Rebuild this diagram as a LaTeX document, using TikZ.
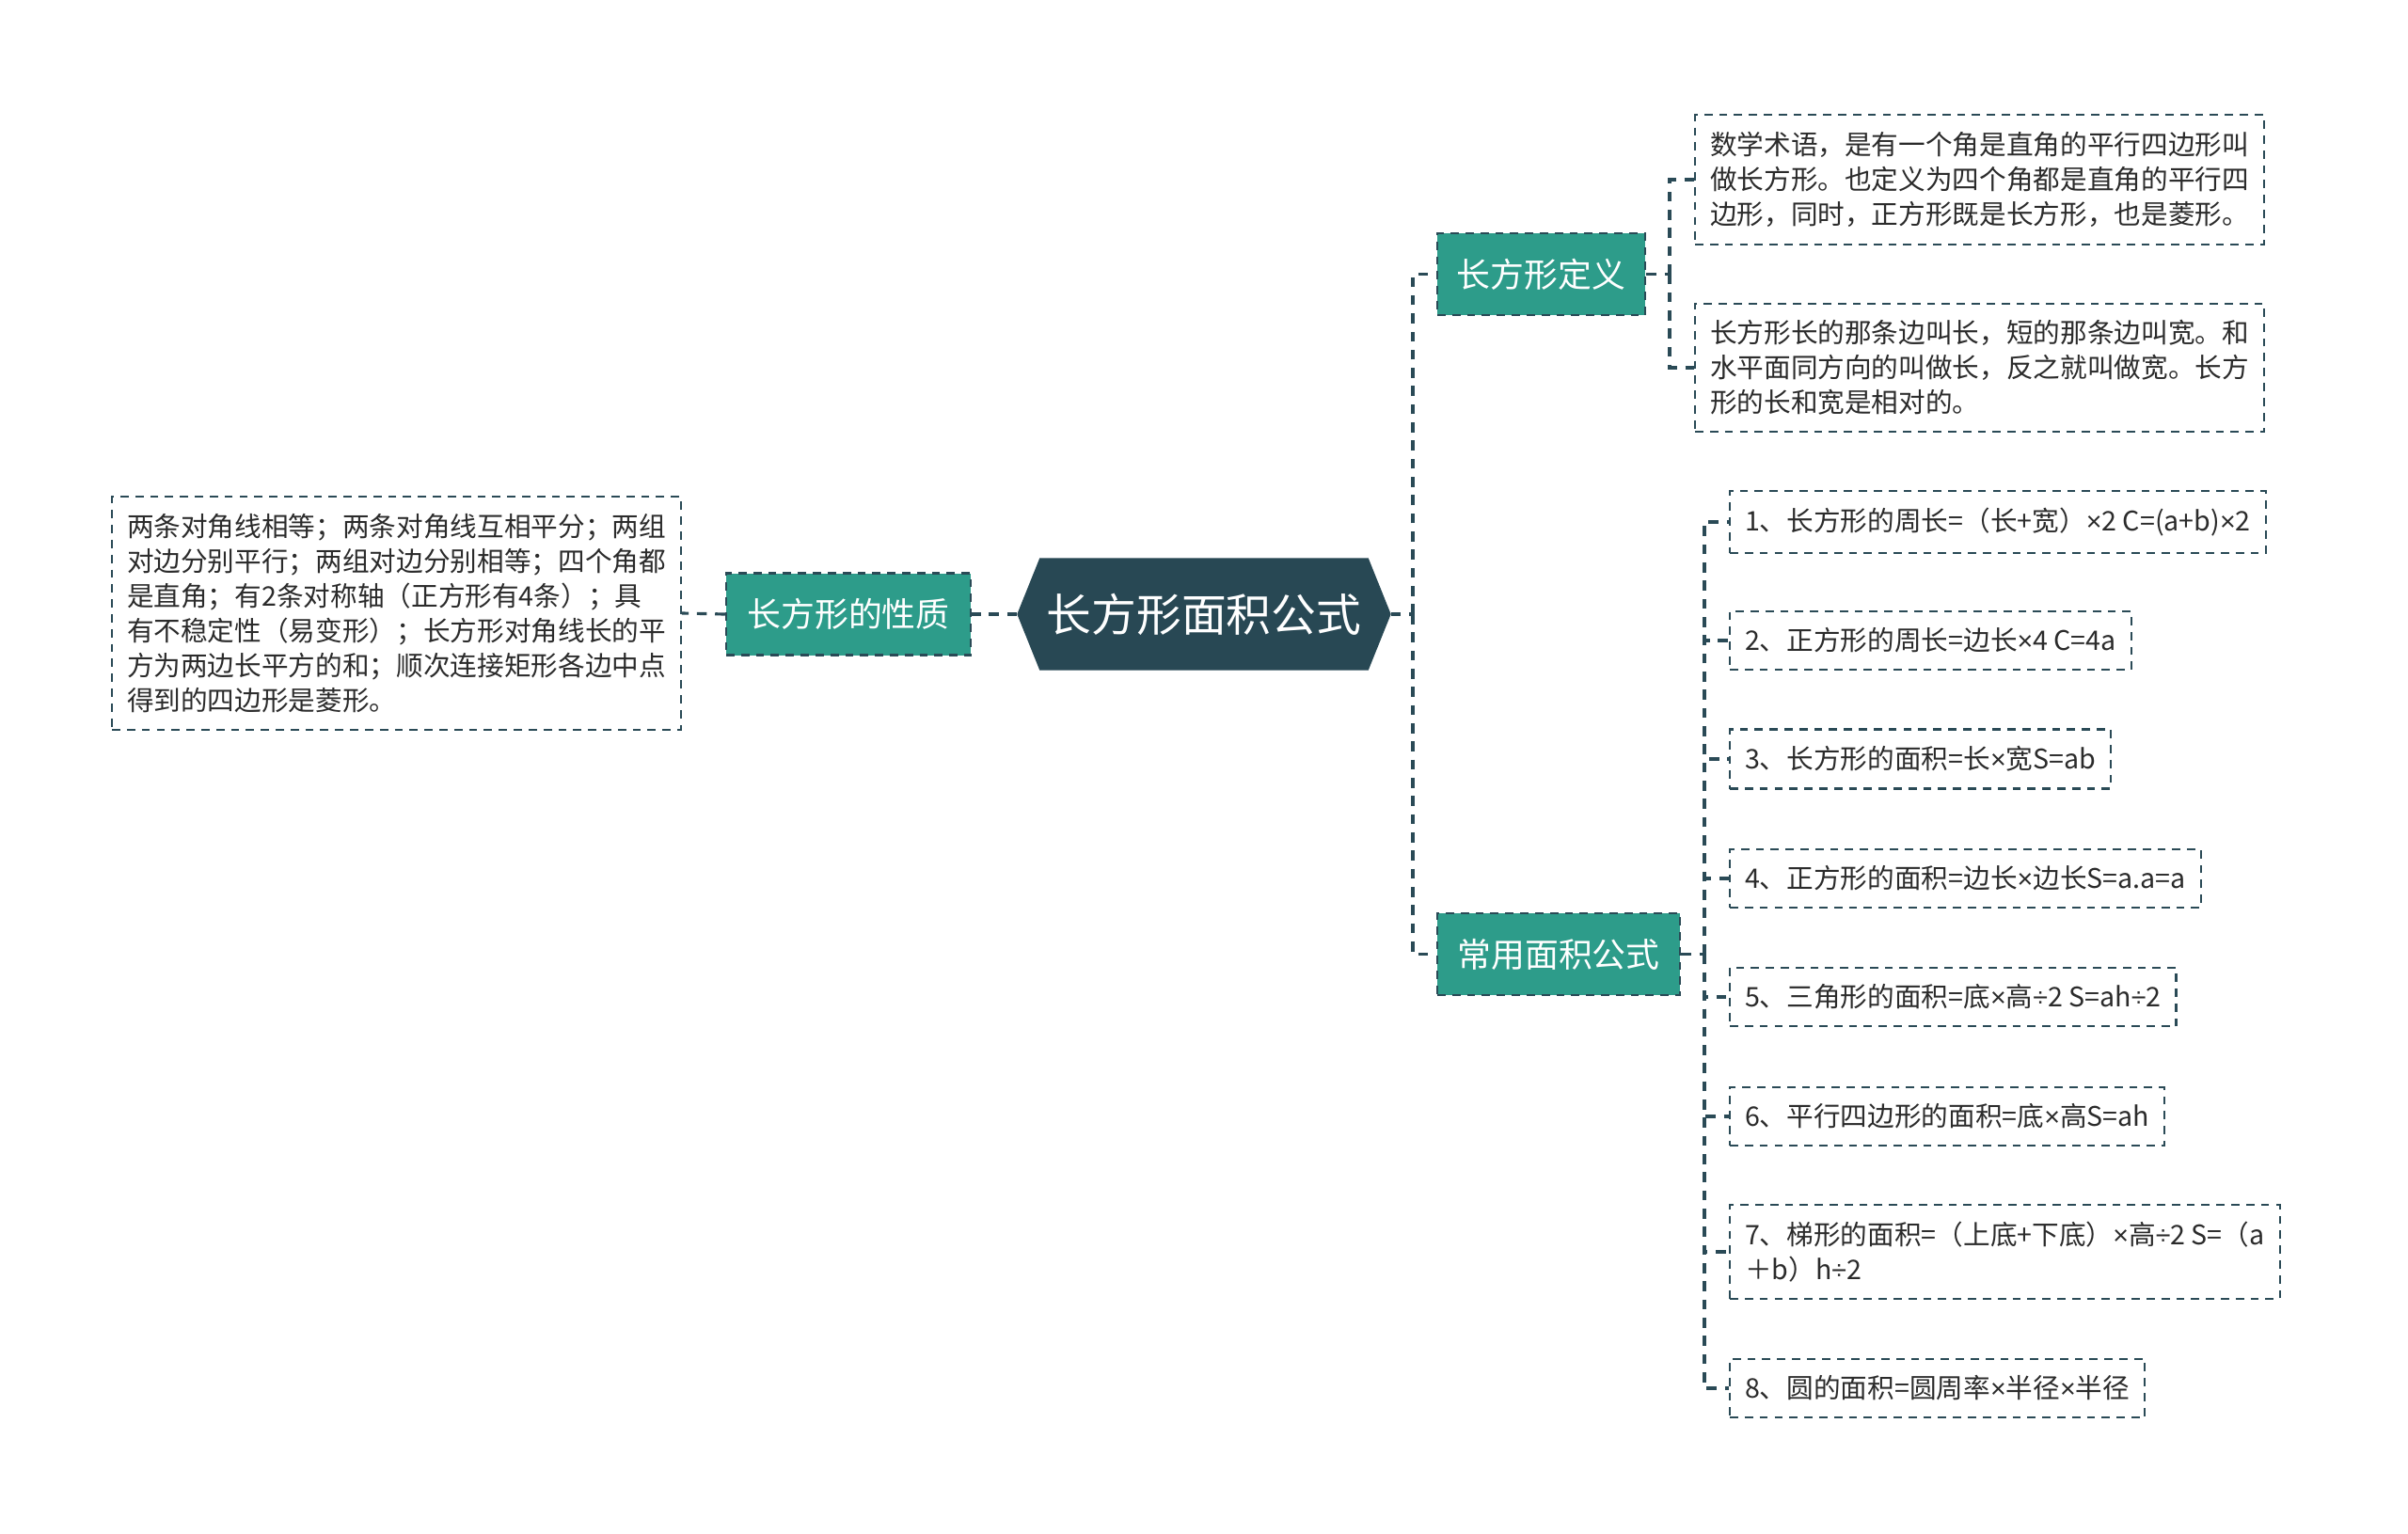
\documentclass[tikz,border=0pt]{standalone}
\usepackage{fontspec}
\setmainfont{Noto Sans CJK SC}
\newfontfamily\narrowsym{Liberation Sans}
\newcommand{\tms}{{\narrowsym ×}}
\newcommand{\dvd}{{\narrowsym ÷}}
\usetikzlibrary{backgrounds}
\definecolor{rootc}{HTML}{284854}
\definecolor{branchc}{HTML}{2D9C8A}
\definecolor{linec}{HTML}{2A4A56}
\definecolor{txtc}{HTML}{2B2B2B}
\tikzset{
  conn/.style={draw=linec, line width=0.9pt, dash pattern=on 3pt off 2.5pt},
  branchbox/.style={fill=branchc, draw=linec, line width=0.7pt, dash pattern=on 2.5pt off 2pt,
    text=white, font=\fontsize{10.2}{12}\selectfont, minimum height=0.87cm, inner xsep=0.1cm},
  leafbox/.style={draw=linec, line width=0.6pt, dash pattern=on 2.5pt off 2pt, text=txtc,
    font=\fontsize{8.15}{10.5}\selectfont, align=left, inner xsep=0.16cm, inner ysep=0.18cm},
  rootbox/.style={text=white, font=\fontsize{13.6}{16}\selectfont, minimum width=3.96cm,
    minimum height=1.18cm, inner sep=0pt},
}
\begin{document}
\begin{tikzpicture}
\useasboundingbox (0,0) rectangle (25.6,-16.31);

\node[rootbox] (root) at (12.80,-6.53) {长方形面积公式};
\node[branchbox, minimum width=2.60cm] (prop) at (9.02,-6.53) {长方形的性质};
\node[branchbox, minimum width=2.21cm] (def) at (16.385,-2.915) {长方形定义};
\node[branchbox, minimum width=2.58cm] (formula) at (16.57,-10.145) {常用面积公式};

\node[leafbox] (propText) at (4.215,-6.52) {两条对角线相等；两条对角线互相平分；两组\\对边分别平行；两组对边分别相等；四个角都\\是直角；有2条对称轴（正方形有4条）；具\\有不稳定性（易变形）；长方形对角线长的平\\方为两边长平方的和；顺次连接矩形各边中点\\得到的四边形是菱形。};

\node[leafbox, anchor=west] (def1) at (18.01,-1.91) {数学术语，是有一个角是直角的平行四边形叫\\做长方形。也定义为四个角都是直角的平行四\\边形，同时，正方形既是长方形，也是菱形。};
\node[leafbox, anchor=west] (def2) at (18.01,-3.91) {长方形长的那条边叫长，短的那条边叫宽。和\\水平面同方向的叫做长，反之就叫做宽。长方\\形的长和宽是相对的。};

\node[leafbox, anchor=west] (f1) at (18.38,-5.55) {1、长方形的周长=（长+宽）\tms{}2 C=(a+b)\tms{}2};
\node[leafbox, anchor=west] (f2) at (18.38,-6.81) {2、正方形的周长=边长\tms{}4 C=4a};
\node[leafbox, anchor=west] (f3) at (18.38,-8.07) {3、长方形的面积=长\tms{}宽S=ab};
\node[leafbox, anchor=west] (f4) at (18.38,-9.34) {4、正方形的面积=边长\tms{}边长S=a.a=a};
\node[leafbox, anchor=west] (f5) at (18.38,-10.60) {5、三角形的面积=底\tms{}高\dvd{}2 S=ah\dvd{}2};
\node[leafbox, anchor=west] (f6) at (18.38,-11.87) {6、平行四边形的面积=底\tms{}高S=ah};
\node[leafbox, anchor=west] (f7) at (18.38,-13.31) {7、梯形的面积=（上底+下底）\tms{}高\dvd{}2 S=（a\\＋b）h\dvd{}2};
\node[leafbox, anchor=west] (f8) at (18.38,-14.76) {8、圆的面积=圆周率\tms{}半径\tms{}半径};

\begin{scope}[on background layer]
  \fill[white] (0,0) rectangle (25.6,-16.31);
  \fill[rootc] (root.west) -- ([xshift=0.24cm]root.north west) -- ([xshift=-0.24cm]root.north east)
    -- (root.east) -- ([xshift=-0.24cm]root.south east) -- ([xshift=0.24cm]root.south west) -- cycle;
\end{scope}

\coordinate (t1) at (15.02,-6.53);
\coordinate (t2) at (17.75,-2.915);
\coordinate (t3) at (18.12,-10.145);

\draw[conn] (root.west) -- (prop.east);
\draw[conn] (prop.west) -- (propText.east);
\draw[conn] (root.east) -- (t1);
\draw[conn] (t1) |- (def.west);
\draw[conn] (t1) |- (formula.west);
\draw[conn] (def.east) -- (t2);
\draw[conn] (t2) |- (def1.west);
\draw[conn] (t2) |- (def2.west);
\draw[conn] (formula.east) -- (t3);
\foreach \i in {1,...,8} {
  \draw[conn] (t3) |- (f\i.west);
}
\end{tikzpicture}
\end{document}
